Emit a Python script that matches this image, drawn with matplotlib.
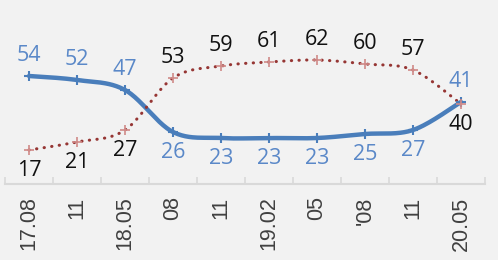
import numpy as np
import matplotlib
matplotlib.use("Agg")
import matplotlib.pyplot as plt

# data
labels = ["17.08", "11", "18.05", "08", "11", "19.02", "05", "'08", "11", "20.05"]
blue_vals = [54, 52, 47, 26, 23, 23, 23, 25, 27, 41]
red_vals = [17, 21, 27, 53, 59, 61, 62, 60, 57, 40]
# label placement: +1 above, -1 below
blue_side = [1, 1, 1, -1, -1, -1, -1, -1, -1, 1]
red_side = [-1, -1, -1, 1, 1, 1, 1, 1, 1, -1]

BLUE = "#4a7ebb"
BLUE_TXT = "#5a88c8"
RED = "#963634"
BG = "#f2f2f2"


def smooth(x, y, n=40):
    # excel style bezier smoothing (catmull-rom like)
    x = np.asarray(x, float)
    y = np.asarray(y, float)
    px = np.concatenate([[x[0]], x, [x[-1]]])
    py = np.concatenate([[y[0]], y, [y[-1]]])
    xs, ys = [], []
    t = np.linspace(0, 1, n)
    for i in range(len(x) - 1):
        p0 = np.array([px[i], py[i]])
        p1 = np.array([px[i + 1], py[i + 1]])
        p2 = np.array([px[i + 2], py[i + 2]])
        p3 = np.array([px[i + 3], py[i + 3]])
        c1 = p1 + (p2 - p0) / 6.0
        c2 = p2 - (p3 - p1) / 6.0
        b = (np.outer((1 - t) ** 3, p1) + np.outer(3 * (1 - t) ** 2 * t, c1)
             + np.outer(3 * (1 - t) * t ** 2, c2) + np.outer(t ** 3, p2))
        xs.append(b[:, 0])
        ys.append(b[:, 1])
    return np.concatenate(xs), np.concatenate(ys)


fig = plt.figure(figsize=(4.98, 2.6), dpi=100)
fig.patch.set_facecolor(BG)
ax = fig.add_axes([5 / 498, 76 / 260, 480 / 498, 184 / 260])
ax.set_facecolor(BG)

x = np.arange(len(labels))

sx, sy = smooth(x, blue_vals)
ax.plot(sx, sy, color=BLUE, lw=3.2, solid_capstyle="round", zorder=3)
ax.plot(x, blue_vals, ls="none", marker="+", ms=7, mew=1.5, color=BLUE, zorder=4)

rx, ry = smooth(x, red_vals)
ax.plot(rx, ry, color=RED, lw=2.2, ls=(0, (0.1, 2.4)), dash_capstyle="round", zorder=3)
ax.plot(x, red_vals, ls="none", marker="+", ms=7, mew=1.2, color="#d08a88", zorder=4)

for xi, v, s in zip(x, blue_vals, blue_side):
    ax.annotate(str(v), (xi, v), xytext=(0, 15 * s), textcoords="offset points",
                ha="center", va="center", fontsize=15.5, color=BLUE_TXT,
                family="Open Sans")
for xi, v, s in zip(x, red_vals, red_side):
    ax.annotate(str(v), (xi, v), xytext=(0, 15 * s), textcoords="offset points",
                ha="center", va="center", fontsize=15.5, color="#111111",
                family="Open Sans")

ax.set_xlim(-0.5, len(labels) - 0.5)
ax.set_ylim(0, 92)
ax.set_yticks([])
for sp in ["top", "right", "left"]:
    ax.spines[sp].set_visible(False)
ax.spines["bottom"].set_color("#d9d9d9")
ax.spines["bottom"].set_linewidth(1.5)

ax.set_xticks(x)
ax.set_xticklabels(labels, rotation=90, fontsize=15.5, color="#404040",
                   family="Liberation Sans", va="top")
ax.tick_params(axis="x", which="major", length=0, pad=9)
ax.set_xticks(np.arange(-0.5, len(labels)), minor=True)
ax.tick_params(axis="x", which="minor", direction="in", length=5, width=1.2,
               color="#d9d9d9")

fig.savefig("out.png", dpi=100, facecolor=BG)
